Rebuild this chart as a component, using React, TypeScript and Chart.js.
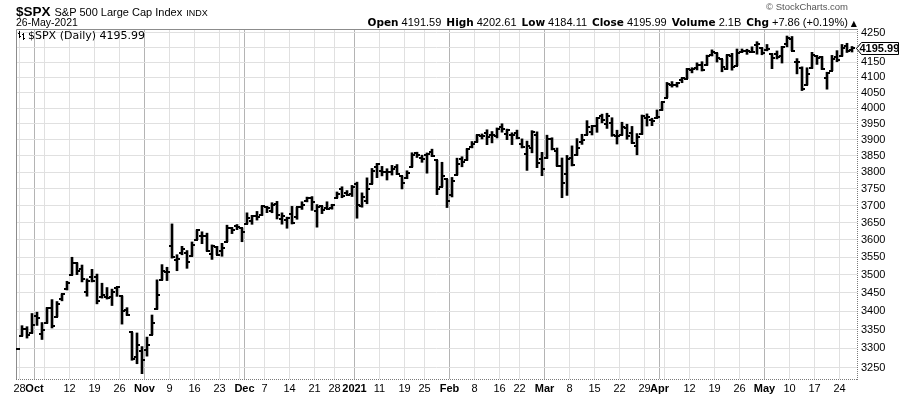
import React, { useEffect, useRef } from 'react';
import { Chart, registerables } from 'chart.js';

Chart.register(...registerables);

// ---------- DATA ----------
const dates: string[] = [
  '2020-09-25', '2020-09-28', '2020-09-29', '2020-09-30',
  '2020-10-01', '2020-10-02', '2020-10-05', '2020-10-06', '2020-10-07', '2020-10-08', '2020-10-09',
  '2020-10-12', '2020-10-13', '2020-10-14', '2020-10-15', '2020-10-16', '2020-10-19', '2020-10-20',
  '2020-10-21', '2020-10-22', '2020-10-23', '2020-10-26', '2020-10-27', '2020-10-28', '2020-10-29', '2020-10-30',
  '2020-11-02', '2020-11-03', '2020-11-04', '2020-11-05', '2020-11-06', '2020-11-09', '2020-11-10',
  '2020-11-11', '2020-11-12', '2020-11-13', '2020-11-16', '2020-11-17', '2020-11-18', '2020-11-19',
  '2020-11-20', '2020-11-23', '2020-11-24', '2020-11-25', '2020-11-27', '2020-11-30',
  '2020-12-01', '2020-12-02', '2020-12-03', '2020-12-04', '2020-12-07', '2020-12-08', '2020-12-09',
  '2020-12-10', '2020-12-11', '2020-12-14', '2020-12-15', '2020-12-16', '2020-12-17', '2020-12-18',
  '2020-12-21', '2020-12-22', '2020-12-23', '2020-12-24', '2020-12-28', '2020-12-29', '2020-12-30', '2020-12-31',
  '2021-01-04', '2021-01-05', '2021-01-06', '2021-01-07', '2021-01-08', '2021-01-11', '2021-01-12',
  '2021-01-13', '2021-01-14', '2021-01-15', '2021-01-19', '2021-01-20', '2021-01-21', '2021-01-22',
  '2021-01-25', '2021-01-26', '2021-01-27', '2021-01-28', '2021-01-29',
  '2021-02-01', '2021-02-02', '2021-02-03', '2021-02-04', '2021-02-05', '2021-02-08', '2021-02-09',
  '2021-02-10', '2021-02-11', '2021-02-12', '2021-02-16', '2021-02-17', '2021-02-18', '2021-02-19',
  '2021-02-22', '2021-02-23', '2021-02-24', '2021-02-25', '2021-02-26',
  '2021-03-01', '2021-03-02', '2021-03-03', '2021-03-04', '2021-03-05', '2021-03-08', '2021-03-09',
  '2021-03-10', '2021-03-11', '2021-03-12', '2021-03-15', '2021-03-16', '2021-03-17', '2021-03-18',
  '2021-03-19', '2021-03-22', '2021-03-23', '2021-03-24', '2021-03-25', '2021-03-26', '2021-03-29',
  '2021-03-30', '2021-03-31',
  '2021-04-01', '2021-04-05', '2021-04-06', '2021-04-07', '2021-04-08', '2021-04-09', '2021-04-12',
  '2021-04-13', '2021-04-14', '2021-04-15', '2021-04-16', '2021-04-19', '2021-04-20', '2021-04-21',
  '2021-04-22', '2021-04-23', '2021-04-26', '2021-04-27', '2021-04-28', '2021-04-29', '2021-04-30',
  '2021-05-03', '2021-05-04', '2021-05-05', '2021-05-06', '2021-05-07', '2021-05-10', '2021-05-11',
  '2021-05-12', '2021-05-13', '2021-05-14', '2021-05-17', '2021-05-18', '2021-05-19', '2021-05-20',
  '2021-05-21', '2021-05-24', '2021-05-25', '2021-05-26',
];

const opens: (number | null)[] = [
  null, 3333.9, 3350.9, 3341.2,
  3385.9, 3338.9, 3367.3, 3408.7, 3384.6, 3434.3, 3459.7,
  3500.0, 3534.0, 3515.5, 3453.7, 3493.5, 3493.7, 3439.4,
  3439.9, 3438.5, 3464.9, 3441.4, 3403.2, 3342.5, 3277.2, 3293.6,
  3296.2, 3336.3, 3406.5, 3485.7, 3508.3, 3583.0, 3543.3,
  3563.2, 3562.7, 3552.6, 3600.2, 3610.3, 3612.1, 3559.4,
  3579.3, 3566.8, 3594.5, 3635.5, 3638.6, 3634.2,
  3645.9, 3653.8, 3668.3, 3670.9, 3694.7, 3683.1, 3706.0,
  3659.1, 3656.1, 3675.3, 3666.4, 3696.3, 3713.7, 3722.4,
  3684.3, 3698.1, 3693.4, 3694.0, 3723.0, 3750.0, 3736.2, 3733.3,
  3764.6, 3698.0, 3712.2, 3764.7, 3815.1, 3803.1, 3801.6,
  3802.2, 3815.0, 3788.7, 3781.9, 3816.2, 3857.5, 3844.2,
  3851.7, 3863.0, 3836.8, 3755.8, 3778.1,
  3731.2, 3791.8, 3840.3, 3836.7, 3878.3, 3892.6, 3910.5,
  3920.8, 3916.4, 3911.7, 3939.6, 3918.5, 3915.9, 3921.2,
  3885.6, 3857.1, 3873.7, 3915.8, 3839.7,
  3842.5, 3903.6, 3864.0, 3818.5, 3793.6, 3844.4, 3851.9,
  3892.0, 3915.5, 3924.5, 3943.0, 3973.6, 3949.6, 3953.5,
  3913.1, 3916.5, 3937.6, 3919.9, 3879.3, 3917.1, 3969.3,
  3963.3, 3967.3,
  3992.8, 4034.4, 4075.6, 4074.3, 4090.0, 4096.1, 4124.7,
  4130.1, 4141.6, 4139.8, 4174.1, 4179.8, 4159.2, 4128.4,
  4170.5, 4138.8, 4185.0, 4188.3, 4185.1, 4206.1, 4198.1,
  4192.0, 4179.0, 4177.1, 4169.1, 4210.3, 4228.3, 4150.3,
  4130.6, 4075.0, 4129.6, 4169.9, 4165.9, 4098.5, 4122.0,
  4168.6, 4170.2, 4205.9, 4191.59,
];

const highs: (number | null)[] = [
  null, 3360.7, 3357.9, 3393.6,
  3397.2, 3369.1, 3409.6, 3431.6, 3426.3, 3447.3, 3482.3,
  3549.9, 3534.0, 3527.9, 3489.1, 3515.8, 3502.4, 3476.9,
  3464.9, 3460.5, 3466.5, 3441.4, 3409.5, 3342.5, 3341.1, 3304.9,
  3330.1, 3389.5, 3486.3, 3529.1, 3521.6, 3646.0, 3557.2,
  3581.2, 3569.0, 3593.7, 3628.5, 3623.1, 3619.1, 3585.2,
  3581.2, 3589.8, 3642.3, 3635.5, 3644.3, 3634.2,
  3678.5, 3671.0, 3682.7, 3699.2, 3697.4, 3708.5, 3712.4,
  3678.5, 3665.9, 3697.6, 3695.3, 3711.3, 3725.1, 3726.7,
  3702.9, 3698.3, 3711.2, 3703.8, 3740.5, 3756.1, 3744.6, 3760.2,
  3770.0, 3737.8, 3783.0, 3811.6, 3826.7, 3817.9, 3810.8,
  3821.0, 3823.6, 3788.7, 3804.5, 3859.8, 3861.5, 3852.3,
  3859.2, 3870.9, 3836.8, 3830.5, 3778.1,
  3784.3, 3843.1, 3847.5, 3872.4, 3894.6, 3915.8, 3918.4,
  3931.5, 3926.0, 3937.2, 3950.4, 3933.6, 3922.0, 3930.4,
  3902.9, 3896.0, 3928.7, 3925.0, 3861.1,
  3914.5, 3906.4, 3874.5, 3843.7, 3851.7, 3881.1, 3903.8,
  3917.4, 3960.3, 3945.0, 3970.1, 3981.0, 3983.9, 3969.6,
  3930.1, 3955.3, 3949.1, 3942.1, 3919.5, 3978.2, 3981.8,
  3968.0, 3994.4,
  4020.6, 4083.4, 4086.2, 4083.1, 4098.2, 4129.5, 4131.8,
  4148.0, 4151.7, 4173.5, 4191.3, 4180.8, 4159.2, 4175.0,
  4179.6, 4194.2, 4194.2, 4193.4, 4201.5, 4218.8, 4198.1,
  4209.4, 4179.0, 4187.7, 4202.7, 4238.0, 4236.4, 4162.0,
  4134.7, 4131.6, 4183.1, 4171.9, 4169.2, 4116.9, 4172.8,
  4188.7, 4209.5, 4213.4, 4202.61,
];

const lows: (number | null)[] = [
  null, 3332.9, 3327.5, 3340.5,
  3361.4, 3323.7, 3367.3, 3354.5, 3384.6, 3428.2, 3458.1,
  3499.6, 3500.9, 3480.6, 3440.9, 3480.5, 3419.9, 3435.7,
  3433.1, 3415.3, 3440.5, 3364.9, 3388.7, 3268.9, 3259.8, 3233.9,
  3279.7, 3336.3, 3405.2, 3485.7, 3484.3, 3547.5, 3511.9,
  3557.0, 3518.6, 3552.6, 3600.2, 3588.7, 3567.3, 3543.8,
  3556.9, 3552.8, 3594.5, 3617.8, 3629.3, 3594.4,
  3645.9, 3644.8, 3657.2, 3670.9, 3678.9, 3678.8, 3660.5,
  3645.2, 3633.4, 3645.8, 3659.6, 3688.6, 3710.9, 3685.8,
  3636.5, 3676.2, 3689.3, 3689.3, 3723.0, 3723.3, 3730.2, 3726.9,
  3662.7, 3695.1, 3705.3, 3764.7, 3783.6, 3789.0, 3776.5,
  3791.5, 3792.9, 3749.6, 3780.4, 3816.2, 3845.1, 3830.4,
  3797.2, 3847.8, 3732.5, 3755.8, 3694.1,
  3725.6, 3791.8, 3816.7, 3836.7, 3874.9, 3892.6, 3902.6,
  3884.9, 3890.4, 3905.8, 3923.9, 3900.4, 3885.0, 3903.1,
  3874.7, 3805.6, 3859.6, 3814.0, 3789.5,
  3842.5, 3868.6, 3818.9, 3723.3, 3730.2, 3819.3, 3851.9,
  3885.7, 3915.5, 3915.2, 3923.5, 3953.4, 3935.7, 3910.9,
  3886.8, 3914.2, 3901.6, 3889.1, 3853.5, 3917.1, 3943.3,
  3944.4, 3967.0,
  3992.8, 4034.4, 4068.1, 4068.3, 4082.5, 4095.5, 4114.8,
  4124.4, 4120.9, 4139.8, 4170.8, 4150.5, 4118.4, 4126.4,
  4123.7, 4138.8, 4182.4, 4176.2, 4181.8, 4176.8, 4174.9,
  4188.0, 4128.6, 4160.9, 4147.3, 4201.6, 4188.1, 4111.5,
  4056.9, 4075.0, 4129.6, 4142.7, 4126.0, 4061.4, 4122.0,
  4151.7, 4170.2, 4182.5, 4184.11,
];

const closes: number[] = [
  3298.5, 3351.6, 3335.5, 3363.0,
  3380.8, 3348.4, 3408.6, 3361.0, 3419.4, 3446.8, 3477.1,
  3534.2, 3511.9, 3488.7, 3483.3, 3483.8, 3426.9, 3443.1,
  3435.6, 3453.5, 3465.4, 3401.0, 3390.7, 3271.0, 3310.1, 3270.0,
  3310.2, 3369.2, 3443.4, 3510.5, 3509.4, 3550.5, 3545.5,
  3572.7, 3537.0, 3585.2, 3626.9, 3609.5, 3567.8, 3581.9,
  3557.5, 3577.6, 3635.4, 3629.7, 3638.4, 3621.6,
  3662.5, 3669.0, 3666.7, 3699.1, 3692.0, 3702.3, 3672.8,
  3668.1, 3663.5, 3647.5, 3694.6, 3701.2, 3722.5, 3709.4,
  3694.9, 3687.3, 3690.0, 3703.1, 3735.4, 3727.0, 3732.0, 3756.1,
  3700.7, 3726.9, 3748.1, 3803.8, 3824.7, 3799.6, 3801.2,
  3809.8, 3795.5, 3768.3, 3798.9, 3851.9, 3853.1, 3841.5,
  3855.4, 3849.6, 3750.8, 3787.4, 3714.2,
  3773.9, 3826.3, 3830.2, 3871.7, 3886.8, 3915.6, 3911.2,
  3909.9, 3916.4, 3934.8, 3932.6, 3931.3, 3914.0, 3906.7,
  3876.5, 3881.4, 3925.4, 3829.3, 3811.2,
  3901.8, 3870.3, 3819.7, 3768.5, 3841.9, 3821.4, 3875.4,
  3898.8, 3939.3, 3943.3, 3968.9, 3962.7, 3974.1, 3915.5,
  3913.1, 3940.6, 3910.5, 3889.1, 3909.5, 3974.5, 3971.1,
  3958.6, 3972.9,
  4019.9, 4077.9, 4073.9, 4080.0, 4097.2, 4128.8, 4128.0,
  4141.6, 4124.7, 4170.4, 4185.5, 4163.3, 4134.9, 4173.4,
  4135.0, 4180.2, 4187.6, 4186.7, 4183.2, 4211.5, 4181.2,
  4192.7, 4164.7, 4167.6, 4201.6, 4232.6, 4188.4, 4152.1,
  4063.0, 4112.5, 4173.9, 4163.3, 4127.8, 4115.7, 4159.1,
  4155.9, 4197.1, 4188.13, 4195.99,
];

// weekly + month-start vertical grid lines
const gridDates: string[] = [
  '2020-09-28', '2020-10-01', '2020-10-05', '2020-10-12', '2020-10-19', '2020-10-26',
  '2020-11-02', '2020-11-09', '2020-11-16', '2020-11-23', '2020-11-30',
  '2020-12-01', '2020-12-07', '2020-12-14', '2020-12-21', '2020-12-28',
  '2021-01-04', '2021-01-11', '2021-01-19', '2021-01-25',
  '2021-02-01', '2021-02-08', '2021-02-16', '2021-02-22',
  '2021-03-01', '2021-03-08', '2021-03-15', '2021-03-22', '2021-03-29',
  '2021-04-01', '2021-04-05', '2021-04-12', '2021-04-19', '2021-04-26',
  '2021-05-03', '2021-05-10', '2021-05-17', '2021-05-24',
];
const monthStartDates: string[] = [
  '2020-10-01', '2020-11-02', '2020-12-01', '2021-01-04', '2021-02-01', '2021-03-01', '2021-04-01', '2021-05-03',
];
const tickLabelDates: string[] = [
  '2020-09-28', '2020-10-01', '2020-10-12', '2020-10-19', '2020-10-26',
  '2020-11-02', '2020-11-09', '2020-11-16', '2020-11-23',
  '2020-12-01', '2020-12-07', '2020-12-14', '2020-12-21', '2020-12-28',
  '2021-01-04', '2021-01-11', '2021-01-19', '2021-01-25',
  '2021-02-01', '2021-02-08', '2021-02-16', '2021-02-22',
  '2021-03-01', '2021-03-08', '2021-03-15', '2021-03-22', '2021-03-29',
  '2021-04-01', '2021-04-12', '2021-04-19', '2021-04-26',
  '2021-05-03', '2021-05-10', '2021-05-17', '2021-05-24',
];
const tickLabelTexts: string[] = [
  '28', 'Oct', '12', '19', '26',
  'Nov', '9', '16', '23',
  'Dec', '7', '14', '21', '28',
  '2021', '11', '19', '25',
  'Feb', '8', '16', '22',
  'Mar', '8', '15', '22', '29',
  'Apr', '12', '19', '26',
  'May', '10', '17', '24',
];
const yTickValues: number[] = [
  3250, 3300, 3350, 3400, 3450, 3500, 3550, 3600, 3650, 3700, 3750,
  3800, 3850, 3900, 3950, 4000, 4050, 4100, 4150, 4200, 4250,
];
const volumeText = '2.1B';

// ---------- helpers ----------
const SANS = '"Liberation Sans", Arial, sans-serif';
const DEJAVU = '"DejaVu Sans", Verdana, sans-serif';

const gridPositions = gridDates.map((d) => dates.indexOf(d) - 0.5);
const gridIsMonth = gridDates.map((d) => monthStartDates.includes(d));
const gridLabels = gridDates.map((d) => {
  const k = tickLabelDates.indexOf(d);
  return k >= 0 ? tickLabelTexts[k] : '';
});

function makeTick(side: 'open' | 'close'): HTMLCanvasElement {
  const c = document.createElement('canvas');
  c.width = 10;
  c.height = 2;
  const g = c.getContext('2d')!;
  g.fillStyle = '#000';
  if (side === 'open') g.fillRect(2, 0, 4, 2);
  else g.fillRect(4, 0, 4, 2);
  return c;
}

const framePlugin = {
  id: 'frame',
  beforeDatasetsDraw(chart: any) {
    const { ctx, chartArea } = chart;
    ctx.save();
    ctx.lineWidth = 1;
    // solid left + top border
    ctx.strokeStyle = '#8c8c8c';
    ctx.beginPath();
    ctx.moveTo(chartArea.left + 0.5, chartArea.bottom);
    ctx.lineTo(chartArea.left + 0.5, chartArea.top + 0.5);
    ctx.lineTo(chartArea.right, chartArea.top + 0.5);
    ctx.stroke();
    // dotted right + bottom axis lines
    ctx.strokeStyle = '#7a7a7a';
    ctx.setLineDash([1, 1]);
    ctx.beginPath();
    ctx.moveTo(chartArea.right + 0.5, chartArea.top);
    ctx.lineTo(chartArea.right + 0.5, chartArea.bottom + 1);
    ctx.moveTo(chartArea.left, chartArea.bottom + 0.5);
    ctx.lineTo(chartArea.right + 1, chartArea.bottom + 0.5);
    ctx.stroke();
    ctx.restore();
    ctx.imageSmoothingEnabled = false;
  },
};

const pricePlugin = {
  id: 'lastPrice',
  afterDraw(chart: any) {
    const { ctx, chartArea, scales } = chart;
    const v = closes[closes.length - 1];
    const y = Math.round(scales.y.getPixelForValue(v)) + 0.5;
    const x0 = chartArea.right - 0.5;
    ctx.save();
    ctx.beginPath();
    ctx.moveTo(x0, y);
    ctx.lineTo(x0 + 5, y - 6);
    ctx.lineTo(898.5, y - 6);
    ctx.lineTo(898.5, y + 6);
    ctx.lineTo(x0 + 5, y + 6);
    ctx.closePath();
    ctx.fillStyle = '#fff';
    ctx.fill();
    ctx.strokeStyle = '#000';
    ctx.lineWidth = 1;
    ctx.stroke();
    ctx.fillStyle = '#000';
    ctx.font = `bold 11px ${SANS}`;
    ctx.textBaseline = 'middle';
    ctx.textAlign = 'left';
    ctx.fillText(v.toFixed(2), x0 + 3, y + 0.5);
    ctx.restore();
  },
};

export default function App() {
  const canvasRef = useRef<HTMLCanvasElement | null>(null);

  useEffect(() => {
    const canvas = canvasRef.current;
    if (!canvas) return;

    const hlData: any[] = [];
    const openData: any[] = [];
    const closeData: any[] = [];
    dates.forEach((_, i) => {
      const lo = lows[i];
      const hi = highs[i];
      const op = opens[i];
      if (lo != null && hi != null) hlData.push({ x: i, y: [lo, hi] });
      if (op != null) openData.push({ x: i, y: op });
      closeData.push({ x: i, y: closes[i] });
    });

    const chart = new Chart(canvas, {
      type: 'bar',
      data: {
        datasets: [
          {
            type: 'bar',
            data: hlData,
            backgroundColor: '#000',
            borderWidth: 0,
            barThickness: 2,
            grouped: false,
          } as any,
          {
            type: 'scatter',
            data: openData,
            pointStyle: makeTick('open'),
            pointRadius: 1,
            pointHoverRadius: 1,
          } as any,
          {
            type: 'scatter',
            data: closeData,
            pointStyle: makeTick('close'),
            pointRadius: 1,
            pointHoverRadius: 1,
          } as any,
        ],
      },
      options: {
        responsive: false,
        animation: false,
        events: [],
        layout: { padding: { left: 16, top: 29, right: 0, bottom: 0 } },
        plugins: {
          legend: { display: false },
          tooltip: { enabled: false },
        },
        scales: {
          x: {
            type: 'linear',
            position: 'bottom',
            min: -0.2,
            max: 168,
            bounds: 'data',
            offset: false,
            afterBuildTicks: (s: any) => {
              s.ticks = gridPositions.map((v) => ({ value: v }));
            },
            afterFit: (s: any) => {
              s.height = 17;
            },
            grid: {
              offset: false,
              drawTicks: false,
              lineWidth: 1,
              color: (c: any) => (gridIsMonth[c.index] ? '#b4b4b4' : '#e0e0e0'),
            },
            border: { display: false },
            ticks: {
              autoSkip: false,
              maxRotation: 0,
              minRotation: 0,
              padding: 3,
              color: '#000',
              font: (c: any) => ({
                family: SANS,
                size: 11,
                weight: gridIsMonth[c.index] ? 'bold' : 'normal',
              }),
              callback: (_v: any, i: number) => gridLabels[i],
            },
          } as any,
          y: {
            type: 'logarithmic',
            position: 'right',
            min: 3220.2,
            max: 4261.9,
            bounds: 'data',
            afterBuildTicks: (s: any) => {
              s.ticks = yTickValues.map((v) => ({ value: v }));
            },
            afterFit: (s: any) => {
              s.width = 43;
            },
            grid: { drawTicks: false, color: '#e0e0e0', lineWidth: 1 },
            border: { display: false },
            ticks: {
              padding: 4,
              color: '#000',
              font: { family: SANS, size: 11 },
              callback: (v: any) => String(v),
            },
          } as any,
        },
      },
      plugins: [framePlugin, pricePlugin],
    } as any);

    return () => chart.destroy();
  }, []);

  const n = closes.length - 1;
  const chg = closes[n] - closes[n - 1];
  const pct = (chg / closes[n - 1]) * 100;
  const lbl: React.CSSProperties = { fontFamily: DEJAVU, fontWeight: 'bold', fontSize: 10.5, marginRight: 3 };
  const val: React.CSSProperties = { fontFamily: SANS, fontSize: 11, marginRight: 5 };

  return (
    <div style={{ position: 'fixed', left: 0, top: 0, width: 900, height: 396, background: '#fff', overflow: 'hidden' }}>
      <canvas ref={canvasRef} width={900} height={396} style={{ position: 'absolute', left: 0, top: 0, width: 900, height: 396 }} />
      {/* title line */}
      <div style={{ position: 'absolute', left: 16, top: 3, whiteSpace: 'nowrap', lineHeight: '15px', color: '#000' }}>
        <span style={{ fontFamily: SANS, fontWeight: 'bold', fontSize: 13.5 }}>$SPX</span>
        <span style={{ fontFamily: SANS, fontSize: 11, marginLeft: 4 }}>S&amp;P 500 Large Cap Index</span>
        <span style={{ fontFamily: SANS, fontSize: 9, marginLeft: 4 }}>INDX</span>
      </div>
      <div style={{ position: 'absolute', right: 52, top: 1, fontFamily: SANS, fontSize: 9.5, color: '#555', whiteSpace: 'nowrap', lineHeight: '12px' }}>
        © StockCharts.com
      </div>
      {/* second line */}
      <div style={{ position: 'absolute', left: 16, top: 16, fontFamily: SANS, fontSize: 10.5, whiteSpace: 'nowrap', lineHeight: '13px', color: '#000' }}>
        26-May-2021
      </div>
      <div style={{ position: 'absolute', right: 43, top: 16, whiteSpace: 'nowrap', lineHeight: '13px', color: '#000', display: 'flex', alignItems: 'baseline' }}>
        <span style={lbl}>Open</span>
        <span style={val}>{(opens[n] as number).toFixed(2)}</span>
        <span style={lbl}>High</span>
        <span style={val}>{(highs[n] as number).toFixed(2)}</span>
        <span style={lbl}>Low</span>
        <span style={val}>{(lows[n] as number).toFixed(2)}</span>
        <span style={lbl}>Close</span>
        <span style={val}>{closes[n].toFixed(2)}</span>
        <span style={lbl}>Volume</span>
        <span style={val}>{volumeText}</span>
        <span style={lbl}>Chg</span>
        <span style={{ ...val, marginRight: 3 }}>
          {(chg >= 0 ? '+' : '') + chg.toFixed(2)} ({(pct >= 0 ? '+' : '') + pct.toFixed(2)}%)
        </span>
        <span style={{ fontFamily: DEJAVU, fontSize: 8 }}>▲</span>
      </div>
      {/* in-chart legend */}
      <div style={{ position: 'absolute', left: 18, top: 29, whiteSpace: 'nowrap', lineHeight: '13px', display: 'flex', alignItems: 'center' }}>
        <svg width="8" height="9" viewBox="0 0 8 9" style={{ marginRight: 2 }}>
          <path d="M1.5 0 V7 M0 2.5 H1.5 M1.5 5.5 H3 M5.5 2 V9 M4 3.5 H5.5 M5.5 7.5 H7" stroke="#000" strokeWidth="1" fill="none" />
        </svg>
        <span style={{ fontFamily: DEJAVU, fontSize: 11, color: '#000' }}>$SPX (Daily) 4195.99</span>
      </div>
    </div>
  );
}
